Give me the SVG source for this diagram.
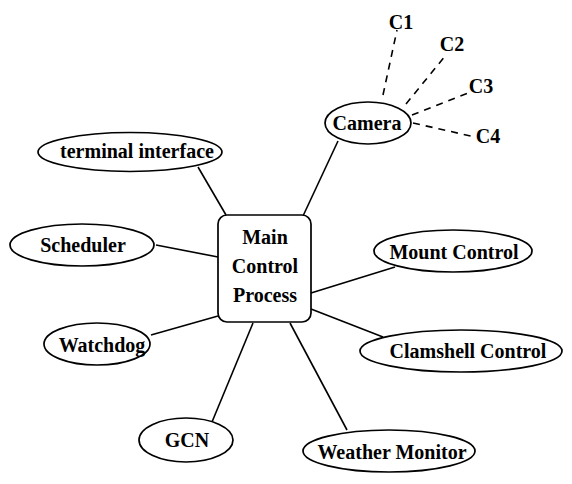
<svg xmlns="http://www.w3.org/2000/svg" width="572" height="484" viewBox="0 0 572 484">
<style>
.n{fill:#fff;stroke:#000;stroke-width:1.7}
.t{font-family:"Liberation Serif","Times New Roman",serif;font-weight:bold;font-size:20px;fill:#000;text-anchor:middle}
.l{stroke:#000;stroke-width:1.6;fill:none}
.d{stroke:#000;stroke-width:1.6;fill:none;stroke-dasharray:7,6}
</style>
<rect width="572" height="484" fill="#fff"/>
<g id="connectors">
<line class="l" x1="198" y1="167" x2="226" y2="215"/>
<line class="l" x1="156" y1="245" x2="218" y2="257"/>
<line class="l" x1="151" y1="335" x2="218" y2="316"/>
<line class="l" x1="338" y1="141" x2="303" y2="216"/>
<line class="l" x1="253" y1="323" x2="212" y2="422"/>
<line class="l" x1="290" y1="323" x2="347" y2="430"/>
<line class="l" x1="311" y1="309" x2="383" y2="337"/>
<line class="l" x1="311" y1="293" x2="395" y2="267"/>
<line class="d" x1="383" y1="95" x2="397" y2="30"/>
<line class="d" x1="406" y1="104" x2="446" y2="55"/>
<line class="d" x1="412" y1="115" x2="468" y2="93"/>
<line class="d" x1="413" y1="123" x2="475" y2="137"/>
</g>
<g id="main">
<rect class="n" x="218" y="215" width="93" height="107" rx="9"/>
<text class="t" x="265" y="244">Main</text>
<text class="t" x="265" y="273">Control</text>
<text class="t" x="265" y="302">Process</text>
</g>
<g id="camera">
<ellipse class="n" cx="368" cy="123" rx="43" ry="21"/>
<text class="t" x="367" y="130">Camera</text>
</g>
<g id="c1"><text class="t" x="401" y="29">C1</text></g>
<g id="c2"><text class="t" x="452" y="51">C2</text></g>
<g id="c3"><text class="t" x="481" y="93">C3</text></g>
<g id="c4"><text class="t" x="488" y="143">C4</text></g>
<g id="terminal">
<ellipse class="n" cx="130" cy="152" rx="92" ry="19.5"/>
<text class="t" x="137" y="158">terminal interface</text>
</g>
<g id="scheduler">
<ellipse class="n" cx="82" cy="245" rx="72" ry="21"/>
<text class="t" x="83" y="252">Scheduler</text>
</g>
<g id="watchdog">
<ellipse class="n" cx="97" cy="344" rx="53" ry="21"/>
<text class="t" x="102" y="352">Watchdog</text>
</g>
<g id="mount">
<ellipse class="n" cx="453" cy="251" rx="79" ry="21"/>
<text class="t" x="454" y="259">Mount Control</text>
</g>
<g id="clamshell">
<ellipse class="n" cx="461" cy="351" rx="101" ry="21"/>
<text class="t" x="468" y="358">Clamshell Control</text>
</g>
<g id="gcn">
<ellipse class="n" cx="186" cy="440" rx="47" ry="22"/>
<text class="t" x="187" y="447">GCN</text>
</g>
<g id="weather">
<ellipse class="n" cx="389" cy="451" rx="86" ry="21"/>
<text class="t" x="392" y="459">Weather Monitor</text>
</g>
</svg>
